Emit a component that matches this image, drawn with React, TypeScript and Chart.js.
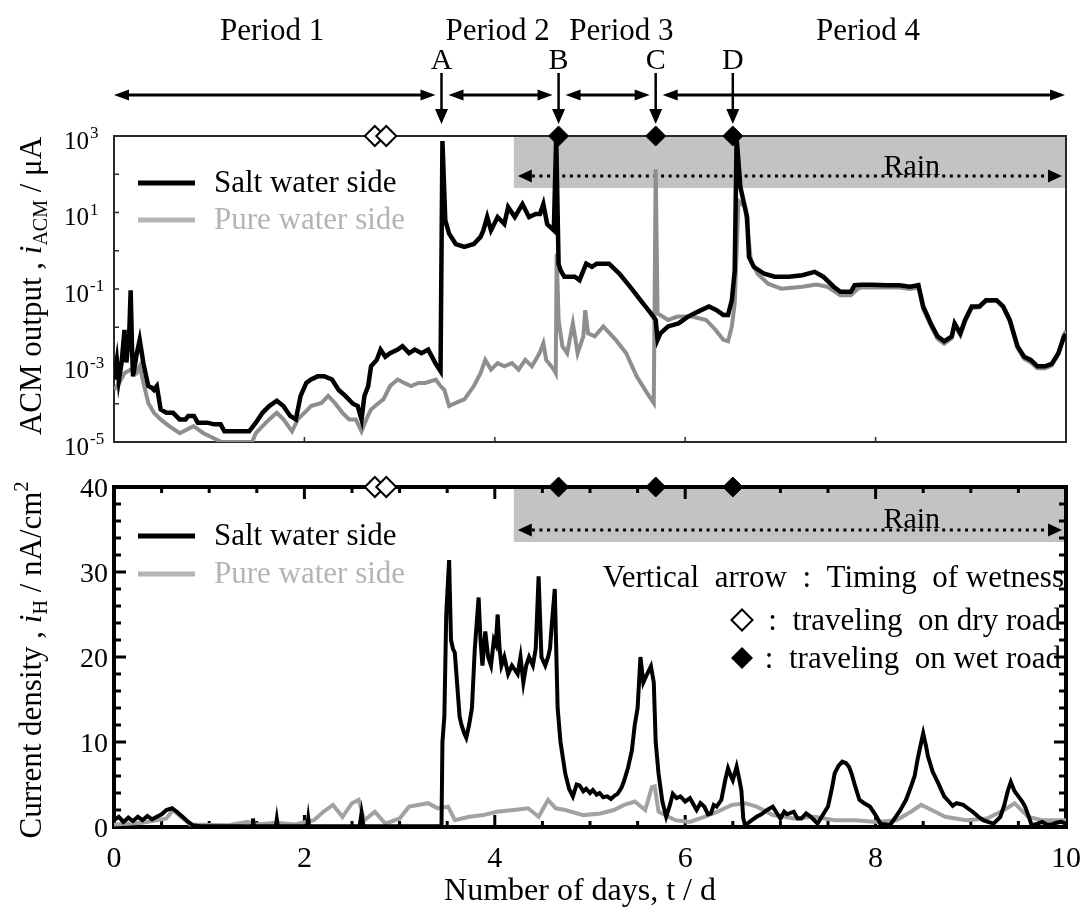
import React, { useEffect, useRef } from "react";
import { Chart, registerables } from "chart.js";

Chart.register(...registerables);

const FONT = '"Liberation Serif", "Times New Roman", Times, serif';

// ---------------- data ----------------
const SERIES_NAMES = ["Salt water side", "Pure water side"];

// Upper panel: ACM output (µA) vs day  [day, value]
const ACM_SALT: [number, number][] = [
  [0, 4.3e-4], [0.03, 1.4e-3], [0.05, 4e-4], [0.08, 1.2e-3], [0.11, 8.5e-3], [0.13, 1.2e-3], [0.16, 6.9e-3],
  [0.175, 9.3e-2], [0.19, 2.5e-3], [0.2, 5.2e-4], [0.24, 2.1e-3], [0.27, 4.7e-3], [0.31, 1.1e-3], [0.36, 2.9e-4],
  [0.4, 2.6e-4], [0.42, 2.3e-4], [0.45, 2.9e-4], [0.49, 7.1e-5], [0.55, 5.8e-5], [0.62, 5.8e-5], [0.69, 3.9e-5],
  [0.75, 3.9e-5], [0.78, 4.8e-5], [0.84, 4.8e-5], [0.88, 3.2e-5], [0.98, 3.2e-5], [1.05, 2.9e-5], [1.12, 2.9e-5],
  [1.16, 1.9e-5], [1.42, 1.9e-5], [1.49, 3.2e-5], [1.56, 5.8e-5], [1.63, 8.7e-5], [1.71, 1.2e-4], [1.78, 8.7e-5],
  [1.85, 4.8e-5], [1.91, 3.9e-5], [1.96, 1.6e-4], [2.02, 3.5e-4], [2.07, 4.3e-4], [2.14, 5.2e-4], [2.21, 5.2e-4],
  [2.29, 4.3e-4], [2.36, 2.3e-4], [2.43, 1.6e-4], [2.51, 1.0e-4], [2.56, 8.7e-5], [2.6, 3.9e-5], [2.63, 1.6e-4],
  [2.67, 2.9e-4], [2.7, 9.5e-4], [2.76, 1.4e-3], [2.8, 2.6e-3], [2.85, 1.7e-3], [2.9, 2.1e-3], [2.98, 2.6e-3],
  [3.03, 3.2e-3], [3.1, 2.1e-3], [3.16, 2.6e-3], [3.23, 2.1e-3], [3.3, 2.6e-3], [3.38, 1.1e-3], [3.43, 7.1e-4],
  [3.45, 740], [3.48, 6.2], [3.52, 2.8], [3.59, 1.5], [3.68, 1.26], [3.78, 1.5], [3.85, 2.3], [3.88, 3.4],
  [3.92, 7.6], [3.96, 3.4], [4.03, 7.6], [4.1, 5.0], [4.14, 13.8], [4.21, 7.6], [4.29, 16.6], [4.36, 7.6],
  [4.43, 9.1], [4.475, 9.1], [4.51, 16.6], [4.55, 5.0], [4.62, 3.4], [4.645, 950], [4.67, 0.45], [4.69, 0.31],
  [4.73, 0.21], [4.84, 0.21], [4.89, 0.17], [4.96, 0.46], [5.02, 0.38], [5.07, 0.46], [5.2, 0.46], [5.31, 0.25],
  [5.42, 0.115], [5.53, 0.051], [5.64, 0.023], [5.69, 0.0155], [5.71, 0.0047], [5.74, 0.0069], [5.82, 0.0105],
  [5.93, 0.0126], [6.03, 0.019], [6.14, 0.026], [6.25, 0.035], [6.33, 0.028], [6.4, 0.021], [6.45, 0.021],
  [6.49, 0.051], [6.52, 0.3], [6.54, 900], [6.58, 46], [6.65, 7.6], [6.67, 0.69], [6.72, 0.38], [6.83, 0.25],
  [6.94, 0.21], [7.09, 0.21], [7.23, 0.23], [7.36, 0.28], [7.45, 0.21], [7.56, 0.115], [7.63, 0.085],
  [7.74, 0.085], [7.78, 0.126], [7.85, 0.13], [7.96, 0.13], [8.11, 0.126], [8.25, 0.126], [8.36, 0.115],
  [8.45, 0.126], [8.5, 0.035], [8.58, 0.0126], [8.65, 0.0058], [8.72, 0.0043], [8.8, 0.0058], [8.83, 0.0126],
  [8.89, 0.0069], [8.94, 0.0155], [9.01, 0.035], [9.09, 0.035], [9.16, 0.051], [9.27, 0.051], [9.34, 0.035],
  [9.41, 0.0155], [9.49, 0.0032], [9.56, 0.0017], [9.63, 0.0014], [9.7, 0.00095], [9.78, 0.00095],
  [9.85, 0.0011], [9.92, 0.0021], [9.98, 0.0058], [10, 0.0065],
];

const ACM_PURE: [number, number][] = [
  [0, 2.3e-4], [0.055, 3.5e-4], [0.11, 6.3e-4], [0.175, 7.8e-4], [0.236, 6.3e-4], [0.27, 9.5e-4], [0.31, 3.5e-4],
  [0.36, 1.05e-4], [0.42, 5.8e-5], [0.49, 3.9e-5], [0.58, 2.6e-5], [0.69, 1.7e-5], [0.835, 2.6e-5], [0.94, 1.7e-5],
  [1.13, 1e-5], [1.45, 1e-5], [1.49, 1.7e-5], [1.56, 2.6e-5], [1.63, 3.9e-5], [1.71, 5.8e-5], [1.78, 3.9e-5],
  [1.87, 1.9e-5], [1.93, 3.9e-5], [2.0, 5.8e-5], [2.07, 8.7e-5], [2.18, 1.05e-4], [2.25, 1.6e-4], [2.32, 1.05e-4],
  [2.4, 5.8e-5], [2.47, 3.9e-5], [2.54, 3.9e-5], [2.6, 1.9e-5], [2.65, 3.9e-5], [2.7, 7.1e-5], [2.78, 1.05e-4],
  [2.83, 1.3e-4], [2.9, 2.9e-4], [2.98, 4.3e-4], [3.05, 3.5e-4], [3.12, 2.9e-4], [3.2, 3.5e-4], [3.27, 3.5e-4],
  [3.38, 4.3e-4], [3.43, 2.9e-4], [3.47, 2.3e-4], [3.52, 8.7e-5], [3.59, 1.05e-4], [3.68, 1.3e-4], [3.78, 2.9e-4],
  [3.85, 6.3e-4], [3.9, 1.4e-3], [3.96, 7.8e-4], [4.03, 1.15e-3], [4.1, 9.5e-4], [4.18, 1.15e-3], [4.25, 7.8e-4],
  [4.32, 1.4e-3], [4.39, 9.5e-4], [4.47, 2.1e-3], [4.51, 3.8e-3], [4.54, 1.4e-3], [4.62, 7.8e-4], [4.64, 6.3e-4],
  [4.65, 0.83], [4.67, 0.0155], [4.71, 3.2e-3], [4.76, 2.1e-3], [4.82, 0.0126], [4.87, 2.1e-3], [4.93, 5.8e-3],
  [4.95, 0.028], [4.98, 6.9e-3], [5.05, 5.8e-3], [5.14, 0.0105], [5.27, 4.7e-3], [5.38, 2.1e-3], [5.49, 5.2e-4],
  [5.6, 1.9e-4], [5.67, 1.05e-4], [5.69, 135], [5.71, 0.023], [5.82, 0.0155], [5.92, 0.019], [6.07, 0.019],
  [6.22, 0.0155], [6.32, 8.5e-3], [6.4, 4.7e-3], [6.45, 4.3e-3], [6.49, 0.0105], [6.52, 0.042], [6.56, 20],
  [6.63, 13.8], [6.69, 0.56], [6.76, 0.25], [6.87, 0.138], [7.01, 0.102], [7.23, 0.115], [7.38, 0.13],
  [7.49, 0.115], [7.63, 0.069], [7.74, 0.069], [7.81, 0.1], [7.85, 0.11], [7.96, 0.11], [8.11, 0.11],
  [8.25, 0.11], [8.36, 0.1], [8.45, 0.11], [8.5, 0.03], [8.58, 0.011], [8.65, 0.005], [8.72, 0.0037],
  [8.8, 0.0052], [8.83, 0.0115], [8.89, 0.0062], [8.94, 0.014], [9.01, 0.032], [9.09, 0.033], [9.16, 0.048],
  [9.27, 0.05], [9.34, 0.033], [9.41, 0.014], [9.49, 0.0029], [9.56, 0.0015], [9.63, 0.0012], [9.7, 0.00085],
  [9.78, 0.00085], [9.85, 0.001], [9.92, 0.002], [9.98, 0.0065], [10, 0.008],
];

// Lower panel: current density (nA/cm²) vs day  [day, value]
const IH_SALT: [number, number][] = [
  [0, 0.8], [0.05, 1.2], [0.1, 0.6], [0.15, 1.1], [0.2, 0.7], [0.25, 1.2], [0.3, 0.8], [0.35, 1.3], [0.4, 0.9],
  [0.45, 1.2], [0.5, 1.5], [0.55, 2.0], [0.61, 2.2], [0.66, 1.8], [0.72, 1.2], [0.78, 0.6], [0.83, 0.2],
  [0.9, 0.1], [1.45, 0.1], [1.46, 1.0], [1.47, 0.1], [1.7, 0.1], [1.71, 0.9], [1.72, 0.1], [2.03, 0.1],
  [2.04, 1.0], [2.05, 0.1], [2.58, 0.1], [2.6, 1.6], [2.62, 0.1], [3.44, 0.1], [3.45, 10], [3.47, 13],
  [3.49, 25], [3.52, 31.4], [3.54, 22], [3.56, 21], [3.58, 20.5], [3.61, 16], [3.63, 13], [3.65, 12], [3.68, 11],
  [3.7, 10.5], [3.73, 12], [3.76, 14], [3.79, 21], [3.81, 24], [3.83, 27], [3.85, 22], [3.87, 19], [3.9, 23],
  [3.93, 20], [3.96, 19], [3.99, 22], [4.01, 21.5], [4.03, 25], [4.05, 21], [4.07, 19], [4.1, 20], [4.14, 18],
  [4.18, 19], [4.21, 18.5], [4.24, 18], [4.27, 20], [4.3, 17], [4.33, 19], [4.36, 20], [4.4, 19], [4.43, 21],
  [4.46, 29.5], [4.49, 20], [4.53, 19], [4.56, 20], [4.58, 21], [4.6, 24], [4.63, 28], [4.66, 14], [4.69, 10],
  [4.74, 6.3], [4.78, 4.5], [4.82, 3.6], [4.86, 5.0], [4.89, 4.9], [4.93, 4.2], [4.96, 4.5], [5.0, 4.0],
  [5.03, 4.35], [5.07, 3.8], [5.1, 4.0], [5.14, 3.5], [5.18, 3.6], [5.22, 3.3], [5.26, 3.7], [5.29, 3.9],
  [5.33, 4.6], [5.36, 5.5], [5.4, 7], [5.44, 9], [5.47, 12], [5.5, 14], [5.53, 20], [5.56, 17], [5.6, 18],
  [5.64, 18.9], [5.67, 17], [5.69, 10], [5.72, 6.3], [5.76, 3.0], [5.8, 1.2], [5.84, 2.6], [5.87, 3.9],
  [5.91, 3.4], [5.95, 3.6], [6.0, 3.0], [6.05, 3.4], [6.09, 2.6], [6.12, 2.0], [6.16, 2.8], [6.2, 2.4],
  [6.24, 1.5], [6.27, 1.6], [6.3, 2.6], [6.33, 2.4], [6.38, 3.2], [6.42, 5.5], [6.45, 6.9], [6.48, 6.0],
  [6.5, 5.5], [6.54, 7.1], [6.57, 5.5], [6.59, 4.3], [6.61, 1.0], [6.63, 0.2], [6.7, 0.8], [6.75, 1.2],
  [6.8, 1.5], [6.86, 2.0], [6.92, 2.4], [7.0, 1.0], [7.04, 1.8], [7.07, 1.5], [7.14, 1.8], [7.18, 1.0],
  [7.22, 1.0], [7.27, 1.6], [7.32, 1.2], [7.39, 0.4], [7.45, 1.5], [7.5, 2.4], [7.54, 4.5], [7.57, 6.3],
  [7.61, 7.2], [7.65, 7.7], [7.69, 7.5], [7.72, 7.1], [7.75, 6.2], [7.78, 5], [7.83, 3.2], [7.88, 2.8],
  [7.94, 2.4], [8.0, 1.4], [8.05, 0.4], [8.15, 0.2], [8.2, 1.0], [8.26, 2.0], [8.32, 3.2], [8.37, 4.7],
  [8.41, 6.0], [8.44, 7.9], [8.47, 9.5], [8.5, 11], [8.53, 9.5], [8.55, 8.3], [8.6, 6.5], [8.66, 5.1],
  [8.72, 3.6], [8.77, 3.0], [8.81, 2.5], [8.85, 2.8], [8.92, 2.6], [8.97, 2.2], [9.02, 1.8], [9.08, 1.2],
  [9.13, 0.8], [9.18, 0.6], [9.24, 0.4], [9.31, 1.2], [9.35, 2.5], [9.39, 4.3], [9.42, 5.3], [9.46, 4.2],
  [9.5, 3.6], [9.54, 3.0], [9.57, 2.4], [9.61, 1.2], [9.64, 0.2], [9.7, 0.4], [9.75, 0.6], [9.8, 0.3],
  [9.85, 0.3], [9.9, 0.5], [9.95, 0.6], [10, 0.4],
];

const IH_PURE: [number, number][] = [
  [0, 0.3], [0.3, 0.5], [0.55, 1.0], [0.62, 2.0], [0.7, 1.2], [0.8, 0.3], [1.2, 0.2], [1.4, 0.6], [1.5, 0.3],
  [1.7, 0.5], [1.9, 0.3], [2.1, 0.8], [2.2, 1.8], [2.3, 2.6], [2.4, 1.2], [2.5, 2.8], [2.57, 3.2], [2.63, 0.8],
  [2.74, 1.8], [2.85, 0.4], [3.0, 1.0], [3.1, 2.4], [3.3, 2.8], [3.4, 2.2], [3.51, 2.4], [3.58, 0.8],
  [3.73, 1.2], [3.88, 1.4], [4.02, 1.8], [4.2, 2.0], [4.35, 2.2], [4.46, 1.2], [4.56, 3.2], [4.64, 2.2],
  [4.74, 2.0], [4.93, 1.4], [5.11, 1.6], [5.25, 2.0], [5.36, 2.6], [5.47, 3.0], [5.58, 2.0], [5.65, 4.7],
  [5.68, 4.8], [5.72, 1.8], [5.9, 0.8], [6.05, 0.6], [6.2, 1.2], [6.34, 1.8], [6.49, 2.6], [6.63, 2.8],
  [6.75, 2.4], [6.92, 1.4], [7.14, 1.0], [7.36, 1.2], [7.57, 0.8], [7.79, 0.8], [8.01, 0.6], [8.22, 0.8],
  [8.37, 1.8], [8.48, 2.6], [8.59, 2.0], [8.73, 1.2], [8.95, 0.8], [9.17, 1.0], [9.35, 2.0], [9.46, 2.8],
  [9.6, 1.2], [9.75, 0.8], [10, 0.8],
];

// events / annotations
const EVENT_LABELS = ["A", "B", "C", "D"];
const EVENT_DAYS = [3.44, 4.67, 5.69, 6.5];
const PERIOD_LABELS = ["Period 1", "Period 2", "Period 3", "Period 4"];
const PERIOD_BOUNDS = [0, 3.44, 4.67, 5.69, 10];
const PERIOD_LABEL_DAYS = [1.66, 4.03, 5.33, 7.92];
const DRY_ROAD_DAYS = [2.74, 2.86];
const WET_ROAD_DAYS = [4.67, 5.69, 6.5];
const RAIN_START = 4.2;
const RAIN_LABEL = "Rain";
const RAIN_LABEL_DAY = 8.38;

// axes
const X_TICKS = [0, 2, 4, 6, 8, 10];
const X_TICK_LABELS = ["0", "2", "4", "6", "8", "10"];
const ACM_TICKS = [1e3, 1e1, 1e-1, 1e-3, 1e-5];
const ACM_TICK_EXP = ["3", "1", "-1", "-3", "-5"];
const ACM_DECADES = [1e-5, 1e-4, 1e-3, 1e-2, 1e-1, 1, 1e1, 1e2, 1e3];
const IH_TICKS = [0, 10, 20, 30, 40];

const NOTE_LINES = [
  "Vertical  arrow  :  Timing  of wetness",
  ":  traveling  on dry road",
  ":  traveling  on wet road",
];
const X_TITLE = "Number of days, t / d";

// styles
const RAIN_FILL = "#c3c3c3";
const GRAY_TOP = "#8e8e8e";
const GRAY_BOT = "#a2a2a2";
const LEGEND_GRAY = "#b4b4b4";

// ---------------- drawing helpers ----------------
function line(ctx: any, x1: number, y1: number, x2: number, y2: number) {
  ctx.beginPath();
  ctx.moveTo(x1, y1);
  ctx.lineTo(x2, y2);
  ctx.stroke();
}

function tri(ctx: any, tx: number, ty: number, dir: string, len: number, half: number) {
  ctx.beginPath();
  ctx.moveTo(tx, ty);
  if (dir === "right") {
    ctx.lineTo(tx - len, ty - half);
    ctx.lineTo(tx - len, ty + half);
  } else if (dir === "left") {
    ctx.lineTo(tx + len, ty - half);
    ctx.lineTo(tx + len, ty + half);
  } else {
    ctx.lineTo(tx - half, ty - len);
    ctx.lineTo(tx + half, ty - len);
  }
  ctx.closePath();
  ctx.fill();
}

function diamond(ctx: any, x: number, y: number, r: number, filled: boolean) {
  ctx.beginPath();
  ctx.moveTo(x - r, y);
  ctx.lineTo(x, y - r);
  ctx.lineTo(x + r, y);
  ctx.lineTo(x, y + r);
  ctx.closePath();
  if (filled) {
    ctx.fillStyle = "#000";
    ctx.fill();
  } else {
    ctx.fillStyle = "#fff";
    ctx.fill();
    ctx.strokeStyle = "#000";
    ctx.lineWidth = 2;
    ctx.stroke();
  }
}

function dottedArrow(ctx: any, xl: number, xr: number, y: number) {
  ctx.save();
  ctx.strokeStyle = "#000";
  ctx.fillStyle = "#000";
  ctx.lineWidth = 3;
  ctx.setLineDash([3, 4.6]);
  line(ctx, xl + 14, y, xr - 14, y);
  ctx.setLineDash([]);
  tri(ctx, xl, y, "left", 14, 6.5);
  tri(ctx, xr, y, "right", 14, 6.5);
  ctx.restore();
}

type Seg = { t: string; size: number; italic?: boolean; shift?: number };
const segFont = (s: Seg) => `${s.italic ? "italic " : ""}${s.size}px ${FONT}`;

function drawRichRotated(ctx: any, segs: Seg[], cx: number, cy: number, base: number) {
  ctx.save();
  ctx.translate(cx, cy);
  ctx.rotate(-Math.PI / 2);
  let w = 0;
  for (const s of segs) {
    ctx.font = segFont(s);
    w += ctx.measureText(s.t).width;
  }
  let x = -w / 2;
  ctx.fillStyle = "#000";
  ctx.textAlign = "left";
  ctx.textBaseline = "alphabetic";
  for (const s of segs) {
    ctx.font = segFont(s);
    ctx.fillText(s.t, x, base + (s.shift || 0));
    x += ctx.measureText(s.t).width;
  }
  ctx.restore();
}

function drawLegend(ctx: any, yBlack: number, yGray: number) {
  ctx.save();
  ctx.lineWidth = 5;
  ctx.strokeStyle = "#000";
  line(ctx, 138, yBlack, 195, yBlack);
  ctx.strokeStyle = LEGEND_GRAY;
  line(ctx, 138, yGray, 195, yGray);
  ctx.font = `31px ${FONT}`;
  ctx.textAlign = "left";
  ctx.textBaseline = "middle";
  ctx.fillStyle = "#000";
  ctx.fillText(SERIES_NAMES[0], 214, yBlack + 1);
  ctx.fillStyle = LEGEND_GRAY;
  ctx.fillText(SERIES_NAMES[1], 214, yGray + 1);
  ctx.restore();
}

// ---------------- plugins ----------------
const topDecor = {
  id: "topDecor",
  beforeDatasetsDraw(chart: any) {
    const { ctx, chartArea: a } = chart;
    const xs = chart.scales.x;
    const ys = chart.scales.y;
    const xr = xs.getPixelForValue(RAIN_START);
    ctx.save();
    ctx.fillStyle = RAIN_FILL;
    ctx.fillRect(xr, a.top, a.right - xr, 52);
    ctx.strokeStyle = "#2a2a2a";
    ctx.lineWidth = 2;
    ctx.strokeRect(a.left, a.top, a.right - a.left, a.bottom - a.top);
    ctx.lineWidth = 1.5;
    for (const v of ACM_DECADES) {
      const y = ys.getPixelForValue(v);
      line(ctx, a.left, y, a.left + 5, y);
    }
    for (const d of X_TICKS) {
      const x = xs.getPixelForValue(d);
      line(ctx, x, a.bottom, x, a.bottom - 5);
    }
    dottedArrow(ctx, xr + 4, a.right - 4, a.top + 40);
    ctx.fillStyle = "#000";
    ctx.font = `30px ${FONT}`;
    ctx.textAlign = "center";
    ctx.textBaseline = "alphabetic";
    ctx.fillText(RAIN_LABEL, xs.getPixelForValue(RAIN_LABEL_DAY), a.top + 39);
    ctx.restore();
  },
  afterDraw(chart: any) {
    const { ctx, chartArea: a } = chart;
    const xs = chart.scales.x;
    const ys = chart.scales.y;
    ctx.save();
    ctx.fillStyle = "#000";
    ctx.strokeStyle = "#000";
    // period labels
    ctx.font = `31px ${FONT}`;
    ctx.textAlign = "center";
    ctx.textBaseline = "alphabetic";
    PERIOD_LABELS.forEach((p, i) => ctx.fillText(p, xs.getPixelForValue(PERIOD_LABEL_DAYS[i]), 40));
    // period arrows
    const yA = 95;
    ctx.lineWidth = 3;
    for (let i = 0; i < PERIOD_BOUNDS.length - 1; i++) {
      const xl = i === 0 ? a.left : xs.getPixelForValue(PERIOD_BOUNDS[i]) + 7;
      const xr = i === PERIOD_BOUNDS.length - 2 ? a.right - 1 : xs.getPixelForValue(PERIOD_BOUNDS[i + 1]) - 6;
      line(ctx, xl + 10, yA, xr - 10, yA);
      tri(ctx, xl, yA, "left", 15, 5.5);
      tri(ctx, xr, yA, "right", 15, 5.5);
    }
    // event arrows
    ctx.font = `30px ${FONT}`;
    ctx.lineWidth = 2.5;
    EVENT_DAYS.forEach((d, i) => {
      const x = xs.getPixelForValue(d);
      ctx.fillText(EVENT_LABELS[i], x, 69);
      const tip = a.top - 12;
      line(ctx, x, 73, x, tip - 12);
      tri(ctx, x, tip, "down", 15, 6.5);
    });
    // y tick labels with exponents
    ctx.textAlign = "left";
    ctx.textBaseline = "middle";
    ACM_TICKS.forEach((v, i) => {
      const y = ys.getPixelForValue(v);
      ctx.font = `25px ${FONT}`;
      ctx.fillText("10", 64, y + 6);
      const w = ctx.measureText("10").width;
      ctx.font = `17px ${FONT}`;
      ctx.fillText(ACM_TICK_EXP[i], 64 + w + 1, y - 2);
    });
    ctx.restore();
    drawLegend(ctx, 183, 220);
    drawRichRotated(
      ctx,
      [
        { t: "ACM output , ", size: 31 },
        { t: "i", size: 31, italic: true },
        { t: "ACM", size: 20, shift: 6 },
        { t: " / μA", size: 31 },
      ],
      30,
      286,
      11
    );
  },
};

const bottomDecor = {
  id: "bottomDecor",
  beforeDatasetsDraw(chart: any) {
    const { ctx, chartArea: a } = chart;
    const xs = chart.scales.x;
    const ys = chart.scales.y;
    const xr = xs.getPixelForValue(RAIN_START);
    ctx.save();
    ctx.fillStyle = RAIN_FILL;
    ctx.fillRect(xr, a.top, a.right - xr, 55);
    ctx.strokeStyle = "#000";
    ctx.lineWidth = 4;
    ctx.strokeRect(a.left, a.top, a.right - a.left, a.bottom - a.top);
    ctx.lineWidth = 3;
    for (let v = 0; v <= 40; v += 2) {
      const y = ys.getPixelForValue(v);
      const len = IH_TICKS.includes(v) ? 12 : 7;
      line(ctx, a.left, y, a.left + len, y);
      line(ctx, a.right, y, a.right - len, y);
    }
    for (let d = 0; d <= 10; d += 0.5) {
      const x = xs.getPixelForValue(d);
      const len = X_TICKS.includes(d) ? 12 : 6;
      line(ctx, x, a.top, x, a.top + len);
      line(ctx, x, a.bottom, x, a.bottom - len);
    }
    dottedArrow(ctx, xr + 4, a.right - 4, a.top + 43);
    ctx.fillStyle = "#000";
    ctx.font = `30px ${FONT}`;
    ctx.textAlign = "center";
    ctx.textBaseline = "alphabetic";
    ctx.fillText(RAIN_LABEL, xs.getPixelForValue(RAIN_LABEL_DAY), a.top + 41);
    ctx.restore();
  },
  afterDraw(chart: any) {
    const { ctx, chartArea: a } = chart;
    const xs = chart.scales.x;
    ctx.save();
    ctx.fillStyle = "#000";
    // x tick labels
    ctx.font = `30px ${FONT}`;
    ctx.textAlign = "center";
    ctx.textBaseline = "middle";
    X_TICKS.forEach((d, i) => ctx.fillText(X_TICK_LABELS[i], xs.getPixelForValue(d), a.bottom + 32));
    // notes
    ctx.font = `31px ${FONT}`;
    ctx.textBaseline = "alphabetic";
    ctx.textAlign = "right";
    ctx.fillText(NOTE_LINES[0], 1064, 127);
    ctx.fillText(NOTE_LINES[1], 1061, 170);
    ctx.fillText(NOTE_LINES[2], 1061, 208);
    diamond(ctx, 742, 160, 10.5, false);
    diamond(ctx, 742, 198, 11, true);
    ctx.fillStyle = "#000";
    ctx.font = `32px ${FONT}`;
    ctx.textAlign = "center";
    ctx.fillText(X_TITLE, 580, 440);
    ctx.restore();
    drawLegend(ctx, 76, 114);
    drawRichRotated(
      ctx,
      [
        { t: "Current density , ", size: 31 },
        { t: "i", size: 31, italic: true },
        { t: "H", size: 20, shift: 6 },
        { t: " / nA/cm", size: 31 },
        { t: "2", size: 20, shift: -13 },
      ],
      30,
      200,
      11
    );
  },
};

// ---------------- chart configs ----------------
const toPts = (arr: [number, number][]) => arr.map(([x, y]) => ({ x, y }));

function markerSets(yVal: number) {
  return [
    {
      label: "wet",
      data: WET_ROAD_DAYS.map((d) => ({ x: d, y: yVal })),
      showLine: false,
      pointStyle: "rectRot",
      pointRadius: 10,
      pointBackgroundColor: "#000",
      pointBorderColor: "#000",
      pointBorderWidth: 1,
      clip: false,
    },
    {
      label: "dry",
      data: DRY_ROAD_DAYS.map((d) => ({ x: d, y: yVal })),
      showLine: false,
      pointStyle: "rectRot",
      pointRadius: 10,
      pointBackgroundColor: "#fff",
      pointBorderColor: "#000",
      pointBorderWidth: 2,
      clip: false,
    },
  ];
}

function topConfig(): any {
  return {
    type: "line",
    data: {
      datasets: [
        ...markerSets(1e3),
        { label: SERIES_NAMES[0], data: toPts(ACM_SALT), borderColor: "#000", borderWidth: 4.5, pointRadius: 0 },
        { label: SERIES_NAMES[1], data: toPts(ACM_PURE), borderColor: GRAY_TOP, borderWidth: 4, pointRadius: 0 },
      ],
    },
    options: {
      responsive: false,
      animation: false,
      devicePixelRatio: 1,
      events: [],
      layout: { padding: { left: 0, right: 16, top: 136, bottom: 0 } },
      plugins: { legend: { display: false }, tooltip: { enabled: false } },
      elements: { line: { tension: 0 }, point: { radius: 0 } },
      scales: {
        x: {
          type: "linear",
          min: 0,
          max: 10,
          grid: { display: false, drawTicks: false },
          border: { display: false },
          ticks: { display: false },
          afterFit: (s: any) => {
            s.height = 18;
          },
        },
        y: {
          type: "logarithmic",
          min: 1e-5,
          max: 1e3,
          grid: { display: false, drawTicks: false },
          border: { display: false },
          ticks: { display: false },
          afterFit: (s: any) => {
            s.width = 114;
          },
        },
      },
    },
    plugins: [topDecor],
  };
}

function bottomConfig(): any {
  return {
    type: "line",
    data: {
      datasets: [
        ...markerSets(40),
        { label: SERIES_NAMES[0], data: toPts(IH_SALT), borderColor: "#000", borderWidth: 4, pointRadius: 0 },
        { label: SERIES_NAMES[1], data: toPts(IH_PURE), borderColor: GRAY_BOT, borderWidth: 4, pointRadius: 0 },
      ],
    },
    options: {
      responsive: false,
      animation: false,
      devicePixelRatio: 1,
      events: [],
      layout: { padding: { left: 0, right: 16, top: 27, bottom: 0 } },
      plugins: { legend: { display: false }, tooltip: { enabled: false } },
      elements: { line: { tension: 0 }, point: { radius: 0 } },
      scales: {
        x: {
          type: "linear",
          min: 0,
          max: 10,
          grid: { display: false, drawTicks: false },
          border: { display: false },
          ticks: { display: false },
          afterBuildTicks: (s: any) => {
            s.ticks = X_TICKS.map((v) => ({ value: v }));
          },
          afterFit: (s: any) => {
            s.height = 85;
          },
        },
        y: {
          type: "linear",
          min: 0,
          max: 40,
          grid: { display: false, drawTicks: false },
          border: { display: false },
          ticks: { color: "#000", font: { family: FONT, size: 28 }, padding: 6, labelOffset: 3 },
          afterBuildTicks: (s: any) => {
            s.ticks = IH_TICKS.map((v) => ({ value: v }));
          },
          afterFit: (s: any) => {
            s.width = 114;
          },
        },
      },
    },
    plugins: [bottomDecor],
  };
}

export default function App() {
  const topRef = useRef<HTMLCanvasElement>(null);
  const botRef = useRef<HTMLCanvasElement>(null);
  useEffect(() => {
    const c1 = new Chart(topRef.current as HTMLCanvasElement, topConfig());
    const c2 = new Chart(botRef.current as HTMLCanvasElement, bottomConfig());
    return () => {
      c1.destroy();
      c2.destroy();
    };
  }, []);
  return (
    <div style={{ position: "absolute", left: 0, top: 0, width: 1082, height: 912, background: "#fff" }}>
      <canvas
        ref={topRef}
        width={1082}
        height={460}
        style={{ position: "absolute", left: 0, top: 0, width: 1082, height: 460 }}
      />
      <canvas
        ref={botRef}
        width={1082}
        height={452}
        style={{ position: "absolute", left: 0, top: 460, width: 1082, height: 452 }}
      />
    </div>
  );
}
